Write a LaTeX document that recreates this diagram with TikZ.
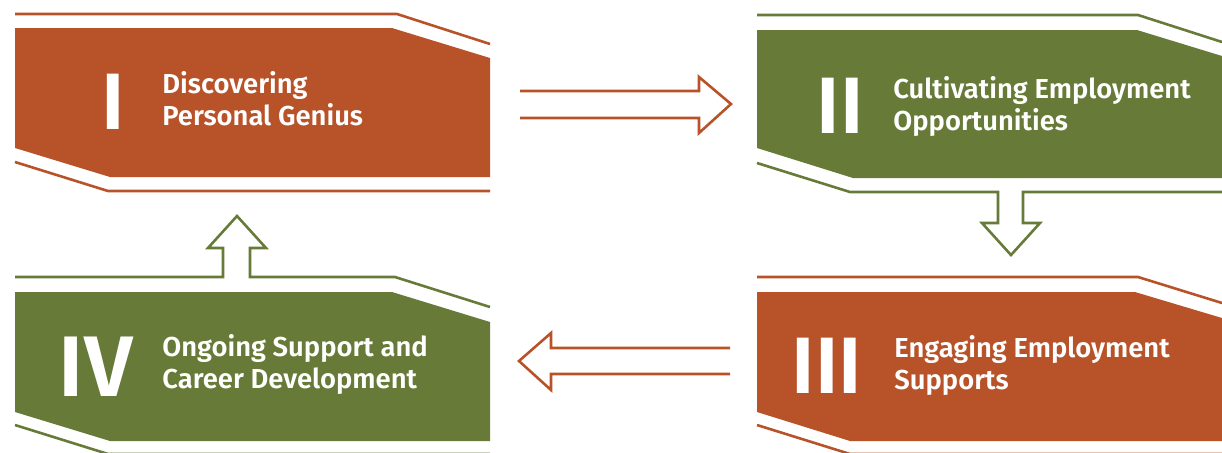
\documentclass[tikz,border=0pt]{standalone}
\usepackage{fontspec}
\setmainfont{Fira Sans}[BoldFont={Fira Sans SemiBold}]
\usepackage{tikz}
\definecolor{RustOrange}{HTML}{B85329}
\definecolor{MossGreen}{HTML}{677A38}
\begin{document}
\begin{tikzpicture}[x=0.5pt, y=-0.5pt,
    stagetext/.style={anchor=base west, align=left, text=white, inner sep=0pt,
      font=\fontsize{13.7}{16}\selectfont\bfseries},
    stagenum/.style={anchor=base, text=white, inner sep=0pt,
      font=\fontsize{40}{40}\selectfont\bfseries},
    rim/.style={line width=1.3pt}]
  \useasboundingbox (0,0) rectangle (1222,452);
  \clip (0,0) rectangle (1222,452);
  % Stage I (top left)
  \fill[RustOrange] (15,28) -- (392,28) -- (490,58) -- (490,177)
    -- (110,177) -- (15,148) -- cycle;
  \draw[rim,RustOrange] (15,14) -- (397,14) -- (490,44);
  \draw[rim,RustOrange] (15,162) -- (108,191) -- (490,191);
  % Stage II (top right), with the arrow down
  \fill[MossGreen] (757,30) -- (1137,30) -- (1222,56) -- (1222,178)
    -- (853,178) -- (757,148) -- cycle;
  \draw[rim,MossGreen] (757,15) -- (1138,15) -- (1222,42);
  \draw[rim,MossGreen] (757,163) -- (850,192) -- (998,192) -- (998,223)
    -- (982,223) -- (1011,255) -- (1040,223) -- (1023,223) -- (1023,192)
    -- (1222,192);
  % Stage III (bottom right)
  \fill[RustOrange] (757,292) -- (1135,292) -- (1222,318) -- (1222,441)
    -- (850,441) -- (757,412) -- cycle;
  \draw[rim,RustOrange] (757,277) -- (1138,277) -- (1222,303);
  \draw[rim,RustOrange] (757,425) -- (850,454) -- (1222,454);
  % Stage IV (bottom left), with the arrow up
  \fill[MossGreen] (15,292) -- (392,292) -- (490,322) -- (490,441)
    -- (110,441) -- (15,412) -- cycle;
  \draw[rim,MossGreen] (15,277) -- (223,277) -- (223,248) -- (208,248)
    -- (237,216) -- (266,248) -- (250,248) -- (250,277) -- (395,277)
    -- (490,307);
  \draw[rim,MossGreen] (15,425) -- (108,454) -- (490,454);
  % Arrows between the stages
  \draw[rim,RustOrange] (520,91) -- (699,91) -- (699,77) -- (731,104)
    -- (699,133) -- (699,118) -- (520,118);
  \draw[rim,RustOrange] (730,348) -- (551,348) -- (551,333) -- (519,361)
    -- (551,390) -- (551,374) -- (730,374);
  % Numerals
  \node[stagenum] (numI) at (113,129) {I};
  \node[stagenum] (numII) at (840,133) {II};
  \node[stagenum] (numIII) at (827,393) {III};
  \node[stagenum,font=\fontsize{43}{43}\selectfont\bfseries] (numIV) at (96,396) {IV};
  % Labels (base = last line)
  \node[stagetext] (txtI) at (162,125) {Discovering\\Personal Genius};
  \node[stagetext] (txtII) at (893,130) {Cultivating Employment\\Opportunities};
  \node[stagetext] (txtIII) at (894,389) {Engaging Employment\\Supports};
  \node[stagetext] (txtIV) at (162,388) {Ongoing Support and\\Career Development};
\end{tikzpicture}
\end{document}
